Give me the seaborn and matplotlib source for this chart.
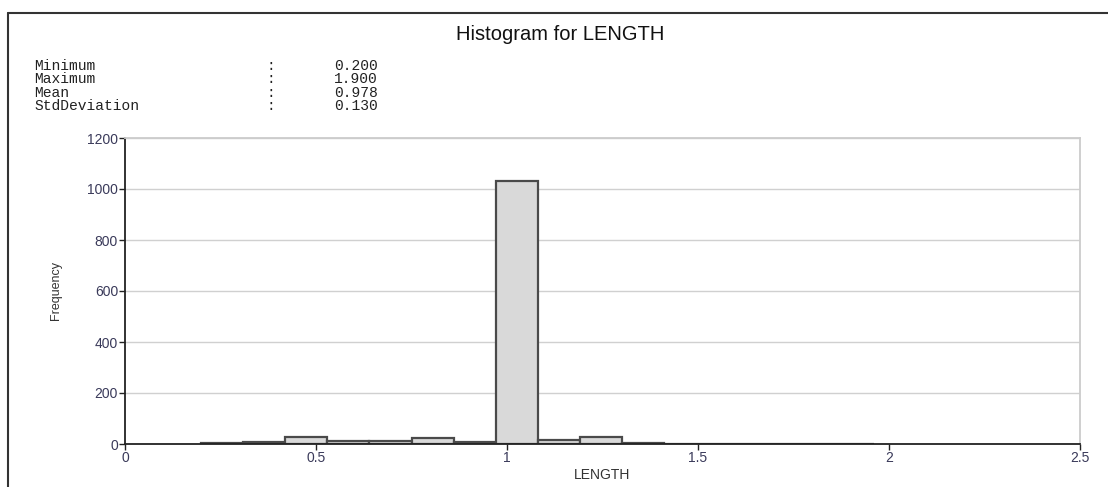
import numpy as np
import pandas as pd
import matplotlib
matplotlib.use("Agg")
import matplotlib.pyplot as plt
import seaborn as sns
from matplotlib.lines import Line2D

# ---- data ----
bin_start = 0.2
bin_width = 0.11
counts = [3, 6, 29, 10, 13, 22, 9, 1033, 17, 27, 2, 1, 0, 0, 0, 1]
x_ticks = [0, 0.5, 1, 1.5, 2, 2.5]
x_tick_labels = ["0", "0.5", "1", "1.5", "2", "2.5"]
y_ticks = [0, 200, 400, 600, 800, 1000, 1200]
stat_names = ["Minimum", "Maximum", "Mean", "StdDeviation"]
stat_values = ["0.200", "1.900", "0.978", "0.130"]
title = "Histogram for LENGTH"
x_label = "LENGTH"
y_label = "Frequency"

n_bins = len(counts)
edges = [round(bin_start + i * bin_width, 4) for i in range(n_bins + 1)]
centers = [(edges[i] + edges[i + 1]) / 2 for i in range(n_bins)]
df = pd.DataFrame({"LENGTH": centers, "count": counts})

sns.set_theme(style="white")
plt.rcParams["font.family"] = ["Liberation Sans", "DejaVu Sans"]

W, H = 1108, 487
fig = plt.figure(figsize=(W / 100, H / 100), dpi=100)
ax = fig.add_axes([125 / W, 1 - 444 / H, (1080 - 125) / W, (444 - 138) / H])

sns.histplot(data=df, x="LENGTH", weights="count", bins=edges, ax=ax,
             color="#d9d9d9", edgecolor="#4a4a4a", linewidth=1.6, alpha=1.0)

ax.set_xlim(0, 2.5)
ax.set_ylim(0, 1200)
ax.set_xticks(x_ticks)
ax.set_xticklabels(x_tick_labels)
ax.set_yticks(y_ticks)
ax.yaxis.grid(True, color="#d0d0d0", linewidth=1.0)
ax.xaxis.grid(False)
ax.set_axisbelow(True)

for s in ["left", "bottom"]:
    ax.spines[s].set_color("#222222")
    ax.spines[s].set_linewidth(1.3)
for s in ["top", "right"]:
    ax.spines[s].set_color("#cccccc")
    ax.spines[s].set_linewidth(1.3)

ax.tick_params(axis="both", which="both", direction="out", length=4, width=1,
               color="#222222", labelsize=10, labelcolor="#3a3a5a", pad=1)
ax.tick_params(axis="x", bottom=True)
ax.tick_params(axis="y", left=True)

ax.set_xlabel(x_label, fontsize=10, color="#333333", labelpad=2)
ax.set_ylabel(y_label, fontsize=9, color="#333333", labelpad=18,
              fontstretch="condensed")

fig.text(560 / W, 1 - 34 / H, title, ha="center", va="center",
         fontsize=14.5, color="#111111")

for i, (nm, val) in enumerate(zip(stat_names, stat_values)):
    y = 1 - (66 + i * 13.3) / H
    fig.text(34 / W, y, nm, ha="left", va="center", fontsize=10.5,
             family="Liberation Mono", color="#222222")
    fig.text(266 / W, y, ":", ha="left", va="center", fontsize=10.5,
             family="Liberation Mono", color="#222222")
    fig.text(334 / W, y, val, ha="left", va="center", fontsize=10.5,
             family="Liberation Mono", color="#222222")

# outer frame lines
fig.add_artist(Line2D([8 / W, 1.0], [1 - 13 / H, 1 - 13 / H],
                      transform=fig.transFigure, color="#333333", linewidth=1.5))
fig.add_artist(Line2D([8 / W, 8 / W], [1 - 13 / H, 0.0],
                      transform=fig.transFigure, color="#333333", linewidth=1.5))

fig.savefig("out.png", dpi=100)
